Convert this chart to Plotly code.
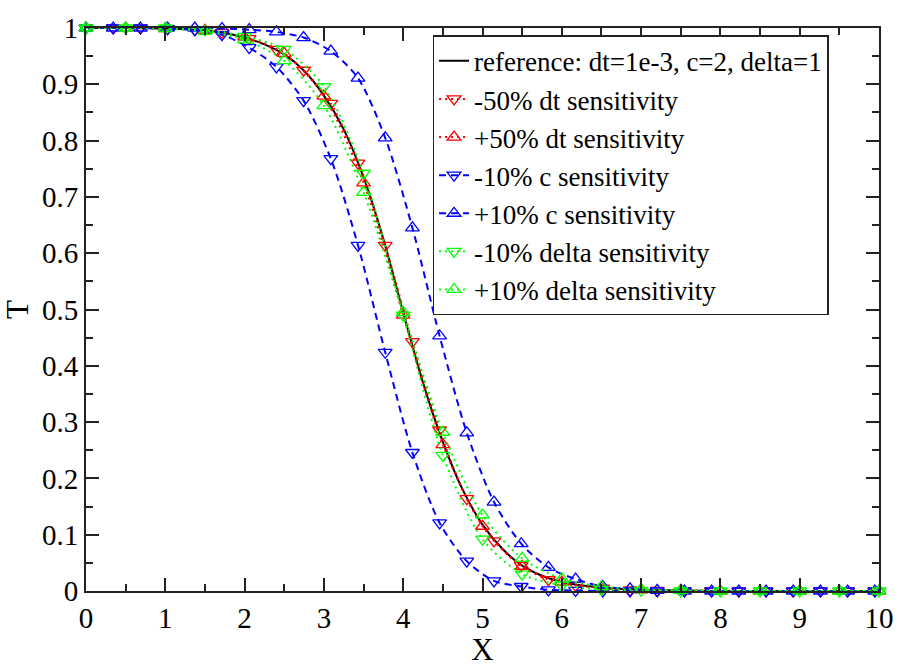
import plotly.graph_objects as go

# ---------------- data ----------------
# reference curve (dt=1e-3, c=2, delta=1)
ref_x = [0, 0.5, 1.0, 1.5, 1.75, 2.0, 2.25, 2.5, 2.75, 3.0, 3.25, 3.5, 3.75, 4.0,
         4.25, 4.5, 4.75, 5.0, 5.25, 5.5, 5.75, 6.0, 6.5, 7.0, 7.5, 8.0, 9.0, 10.0]
ref_y = [1.0, 1.0, 0.999, 0.996, 0.991, 0.983, 0.971, 0.953, 0.924, 0.880, 0.820, 0.735,
         0.625, 0.495, 0.370, 0.265, 0.180, 0.118, 0.075, 0.045, 0.027, 0.016, 0.006,
         0.002, 0.001, 0.0, 0.0, 0.0]

# grid on which the -50% dt and the c-sensitivity runs are marked
grid_a = [0.0, 0.343, 0.686, 1.029, 1.372, 1.715, 2.058, 2.401, 2.744, 3.087, 3.43,
          3.773, 4.116, 4.459, 4.802, 5.145, 5.488, 5.831, 6.174, 6.517, 6.86, 7.203,
          7.546, 7.889, 8.232, 8.575, 8.918, 9.261, 9.604, 9.947]
# grid on which the +50% dt and delta-sensitivity runs are marked
grid_b = [0.0, 0.5, 1.0, 1.5, 2.0, 2.5, 3.0, 3.5, 4.0, 4.5, 5.0, 5.5, 6.0, 6.5, 7.0,
          7.5, 8.0, 8.5, 9.0, 9.5, 10.0]

dt_minus = [1.0, 1.0, 1.0, 0.999, 0.997, 0.992, 0.981, 0.962, 0.925, 0.866, 0.760,
            0.614, 0.443, 0.286, 0.164, 0.089, 0.045, 0.020, 0.010, 0.005, 0.002,
            0.001, 0.0, 0.0, 0.0, 0.0, 0.0, 0.0, 0.0, 0.0]
dt_plus = [1.0, 1.0, 0.999, 0.996, 0.984, 0.955, 0.879, 0.725, 0.490, 0.260, 0.115,
           0.044, 0.016, 0.006, 0.002, 0.001, 0.0, 0.0, 0.0, 0.0, 0.0]
c_minus = [1.0, 1.0, 1.0, 0.999, 0.997, 0.988, 0.965, 0.931, 0.871, 0.768, 0.614,
           0.424, 0.246, 0.121, 0.053, 0.018, 0.008, 0.002, 0.001, 0.0, 0.0, 0.0,
           0.0, 0.0, 0.0, 0.0, 0.0, 0.0, 0.0, 0.0]
c_plus = [1.0, 1.0, 1.0, 1.0, 1.0, 0.999, 0.997, 0.993, 0.983, 0.959, 0.911, 0.805,
          0.645, 0.453, 0.281, 0.158, 0.084, 0.042, 0.021, 0.008, 0.004, 0.001, 0.0,
          0.0, 0.0, 0.0, 0.0, 0.0, 0.0, 0.0]
delta_minus = [1.0, 1.0, 1.0, 0.997, 0.985, 0.962, 0.896, 0.742, 0.490, 0.241, 0.092,
               0.030, 0.010, 0.003, 0.001, 0.0, 0.0, 0.0, 0.0, 0.0, 0.0]
delta_plus = [1.0, 1.0, 0.999, 0.994, 0.979, 0.942, 0.862, 0.708, 0.495, 0.282, 0.135,
              0.058, 0.022, 0.008, 0.003, 0.001, 0.0, 0.0, 0.0, 0.0, 0.0]

names = ["reference: dt=1e-3, c=2, delta=1", "-50% dt sensitivity", "+50% dt sensitivity",
         "-10% c sensitivity", "+10% c sensitivity", "-10% delta sensitivity",
         "+10% delta sensitivity"]

x_ticks = [0, 1, 2, 3, 4, 5, 6, 7, 8, 9, 10]
y_ticks = [0, 0.1, 0.2, 0.3, 0.4, 0.5, 0.6, 0.7, 0.8, 0.9, 1]
y_tick_text = ["0", "0.1", "0.2", "0.3", "0.4", "0.5", "0.6", "0.7", "0.8", "0.9", "1"]

RED = "#ff0000"
BLUE = "#0000ff"
GREEN = "#00ff00"
FONT = "Liberation Serif, Times New Roman, serif"

fig = go.Figure()

fig.add_trace(go.Scatter(x=ref_x, y=ref_y, name=names[0], mode="lines",
                         line=dict(color="black", width=2, shape="spline", smoothing=0.8)))

series = [
    (grid_a, dt_minus, names[1], RED, "triangle-down-open", "2px,4px"),
    (grid_b, dt_plus, names[2], RED, "triangle-up-open", "2px,4px"),
    (grid_a, c_minus, names[3], BLUE, "triangle-down-open", "7px,5px"),
    (grid_a, c_plus, names[4], BLUE, "triangle-up-open", "7px,5px"),
    (grid_b, delta_minus, names[5], GREEN, "triangle-down-open", "2px,4px"),
    (grid_b, delta_plus, names[6], GREEN, "triangle-up-open", "2px,4px"),
]
for xs, ys, nm, col, sym, dash in series:
    fig.add_trace(go.Scatter(
        x=xs, y=ys, name=nm, mode="lines+markers",
        line=dict(color=col, width=2, dash=dash, shape="spline", smoothing=0.8),
        marker=dict(symbol=sym, size=12, color=col, line=dict(width=1.3, color=col)),
        cliponaxis=False))

axis_common = dict(
    showline=True, linecolor="#222", linewidth=2, mirror="ticks",
    ticks="inside", ticklen=13, tickwidth=1.5, tickcolor="#222",
    showgrid=False, zeroline=False,
    tickfont=dict(family=FONT, size=29, color="black"),
)

fig.update_xaxes(range=[0, 10], tickmode="array", tickvals=x_ticks,
                 minor=dict(dtick=0.5, ticks="inside", ticklen=7, tickwidth=1.5, tickcolor="#222"),
                 title=dict(text="X", font=dict(family=FONT, size=31, color="black"), standoff=0),
                 **axis_common)
fig.update_yaxes(range=[0, 1], tickmode="array", tickvals=y_ticks, ticktext=y_tick_text,
                 minor=dict(dtick=0.05, ticks="inside", ticklen=7, tickwidth=1.5, tickcolor="#222"),
                 title=dict(text="T", font=dict(family=FONT, size=31, color="black"), standoff=6),
                 **axis_common)

fig.update_layout(
    width=906, height=667,
    margin=dict(l=86, r=19, t=19, b=63),
    plot_bgcolor="white", paper_bgcolor="white",
    font=dict(family=FONT, color="black"),
    legend=dict(x=0.437, y=0.987, xanchor="left", yanchor="top",
                bgcolor="white", bordercolor="#222", borderwidth=1.5,
                font=dict(family=FONT, size=27, color="black"),
                itemwidth=30, tracegroupgap=0, entrywidth=395),
    showlegend=True,
)

fig.write_html("out.html")
